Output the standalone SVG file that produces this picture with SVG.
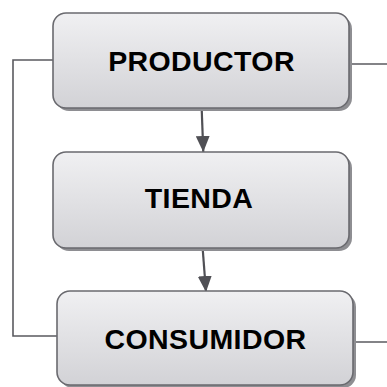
<svg xmlns="http://www.w3.org/2000/svg" width="387" height="387" viewBox="0 0 387 387">
  <defs>
    <linearGradient id="boxFill" x1="0" y1="0" x2="0" y2="1">
      <stop offset="0" stop-color="#f0f0f2"/>
      <stop offset="1" stop-color="#d2d2d6"/>
    </linearGradient>
    <marker id="arrow" viewBox="0 0 16 14" refX="16" refY="7" markerWidth="16" markerHeight="14" markerUnits="userSpaceOnUse" orient="auto">
      <path d="M0,0 L16,7 L0,14 Z" fill="#505055"/>
    </marker>
  </defs>
  <style>
    .shadow { fill: #8e8e92; }
    .box { fill: url(#boxFill); stroke: #6a6a6f; stroke-width: 1.6; }
    .label { font-family: "Liberation Sans", Arial, sans-serif; font-weight: bold; font-size: 28.5px; letter-spacing: 0.4px; fill: #000; text-anchor: middle; }
    .link { fill: none; stroke: #5a5a5f; stroke-width: 1.6; }
    .flow { fill: none; stroke: #505055; stroke-width: 2.2; }
  </style>

  <rect width="387" height="387" fill="#ffffff"/>

  <g id="connectors">
    <polyline class="link" points="53,60 13,60 13,336 57,336"/>
    <line class="link" x1="349" y1="64" x2="387" y2="64"/>
    <line class="link" x1="353" y1="342" x2="387" y2="342"/>
    <line class="flow" x1="201.7" y1="109" x2="203.3" y2="152" marker-end="url(#arrow)"/>
    <line class="flow" x1="202.7" y1="249" x2="206" y2="292" marker-end="url(#arrow)"/>
  </g>

  <g id="productor">
    <rect class="shadow" x="56" y="16" width="296" height="95" rx="13"/>
    <rect class="box" x="53" y="13" width="296" height="95" rx="13"/>
    <text class="label" x="201.5" y="71">PRODUCTOR</text>
  </g>

  <g id="tienda">
    <rect class="shadow" x="56" y="155" width="296" height="96" rx="13"/>
    <rect class="box" x="53" y="152" width="296" height="96" rx="13"/>
    <text class="label" x="199" y="208">TIENDA</text>
  </g>

  <g id="consumidor">
    <rect class="shadow" x="60" y="294" width="296" height="94" rx="13"/>
    <rect class="box" x="57" y="291" width="296" height="94" rx="13"/>
    <text class="label" x="205.5" y="349">CONSUMIDOR</text>
  </g>
</svg>
